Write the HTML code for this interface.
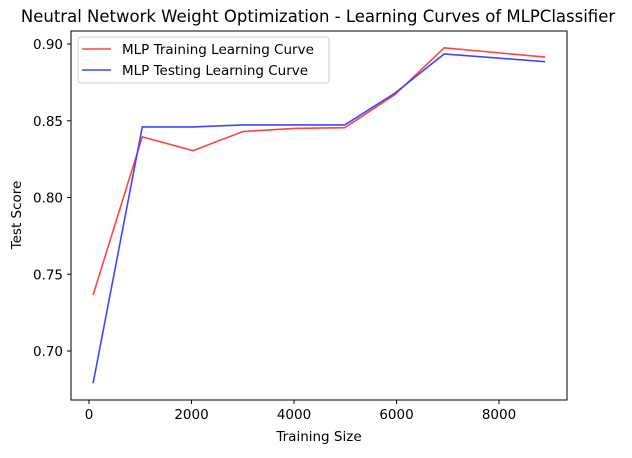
<!DOCTYPE html>
<html><head><meta charset="utf-8"><style>
body{margin:0;background:#fff;}
svg text{font-family:"DejaVu Sans","Liberation Sans",sans-serif;fill:#000;}
</style></head><body>
<svg width="632" height="453" xmlns="http://www.w3.org/2000/svg">
<text x="318" y="22" font-size="16.5" text-anchor="middle">Neutral Network Weight Optimization - Learning Curves of MLPClassifier</text>
<g id="plot"></g>
<rect x="71" y="31" width="496" height="369" fill="none" stroke="#000" stroke-width="1"/>
<text x="319" y="441" font-size="13.5" text-anchor="middle">Training Size</text>
<text transform="translate(21,215) rotate(-90)" font-size="13.5" text-anchor="middle">Test Score</text>
<g>
<rect x="78" y="37" width="251" height="46" rx="3" fill="#fff" fill-opacity="0.8" stroke="#ccc"/>
<line x1="82" y1="49" x2="111" y2="49" stroke="#ff4444" stroke-width="1.5"/>
<text x="122" y="54" font-size="13.5">MLP Training Learning Curve</text>
<line x1="82" y1="70" x2="111" y2="70" stroke="#4444ff" stroke-width="1.5"/>
<text x="122" y="75" font-size="13.5">MLP Testing Learning Curve</text>
</g>
</svg>
<script>
const sizes=[80,1040,2030,3005,4000,4990,5970,6930,8900];
const trainScores=[0.7365,0.8395,0.8305,0.8430,0.8450,0.8455,0.8670,0.8975,0.8915];
const testScores=[0.679,0.846,0.846,0.8473,0.8473,0.8473,0.8680,0.8935,0.8885];
const xTicks=[0,2000,4000,6000,8000];
const yTicks=[0.70,0.75,0.80,0.85,0.90];
const ns="http://www.w3.org/2000/svg";
const X=v=>89+v*0.05125;
const Y=v=>44+(0.90-v)*1535;
const g=document.getElementById('plot');
function mk(t,a){const e=document.createElementNS(ns,t);for(const k in a)e.setAttribute(k,a[k]);g.appendChild(e);return e;}
xTicks.forEach(t=>{
 const l=mk('line',{x1:X(t),x2:X(t),y1:400,y2:404,stroke:'#000'});
 
 
 const tx=mk('text',{x:X(t),y:419,'font-size':13.5,'text-anchor':'middle'});tx.textContent=t;
 
 
});
yTicks.forEach(t=>{
 const l=mk('line',{x1:67,x2:71,y1:Y(t),y2:Y(t),stroke:'#000'});
 
 
 const tx=mk('text',{x:63,y:Y(t)+5,'font-size':13.5,'text-anchor':'end'});tx.textContent=t.toFixed(2);
 
 
});
function line(vals,c,n){
 const p=mk('polyline',{points:vals.map((v,i)=>X(sizes[i])+','+Y(v)).join(' '),fill:'none',stroke:c,'stroke-width':1.6});
 
 
}
line(trainScores,'#ff4444','train-curve');
line(testScores,'#4444ff','test-curve');
</script>
</body></html>
